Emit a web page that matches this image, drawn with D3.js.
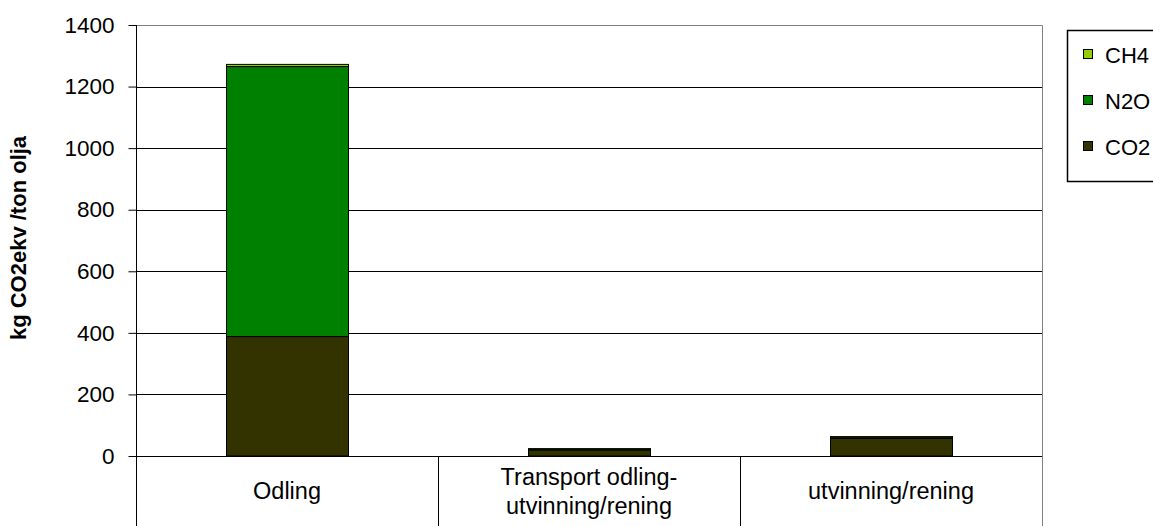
<!DOCTYPE html>
<html>
<head>
<meta charset="utf-8">
<script src="https://cdn.jsdelivr.net/npm/d3@7/dist/d3.min.js"></script>
<style>
  html, body { margin: 0; padding: 0; background: #fff; }
  svg { display: block; font-family: "Liberation Sans", Arial, sans-serif; }
</style>
</head>
<body>
<svg id="chart" width="1153" height="526"></svg>
<script>
// Emissions per process step, kg CO2-equivalents per ton oil
const categories = [["Odling"], ["Transport odling-", "utvinning/rening"], ["utvinning/rening"]];
const co2Values = [388, 19, 57];
const n2oValues = [877, 3, 4];
const ch4Values = [7, 2, 2];
const seriesNames = ["CO2", "N2O", "CH4"];
const seriesColors = ["#333300", "#008000", "#99CC00"];
const yTicks = [0, 200, 400, 600, 800, 1000, 1200, 1400];
const yTitle = "kg CO2ekv /ton olja";

const svg = d3.select("#chart");
const plotLeft = 136, plotRight = 1042, plotTop = 25, zeroY = 456, tableBottom = 526;

const keys = categories.map((c, i) => i);
const table = keys.map(i => ({ key: i, CO2: co2Values[i], N2O: n2oValues[i], CH4: ch4Values[i] }));

const x = d3.scaleBand().domain(keys).range([plotLeft, plotRight]).paddingInner(0.596).paddingOuter(0.298);
const cell = d3.scaleBand().domain(keys).range([plotLeft, plotRight]).padding(0);
const y = d3.scaleLinear().domain([0, 1400]).range([zeroY, plotTop]);

// gridlines
svg.append("g").selectAll("line").data(yTicks.filter(t => t > 0 && t < 1400)).join("line")
  .attr("x1", plotLeft).attr("x2", plotRight)
  .attr("y1", d => Math.round(y(d)) + 0.5).attr("y2", d => Math.round(y(d)) + 0.5)
  .attr("stroke", "#000").attr("stroke-width", 1);

// plot area border (top and right)
svg.append("path")
  .attr("d", `M${plotLeft},${Math.round(y(1400)) + 0.5}H${plotRight + 0.5}V${tableBottom}`)
  .attr("fill", "none").attr("stroke", "#808080").attr("stroke-width", 1);

// stacked bars
const stack = d3.stack().keys(seriesNames);
const layers = stack(table);
svg.append("g").selectAll("g").data(layers).join("g")
  .attr("fill", (d, i) => seriesColors[i])
  .selectAll("rect").data(d => d).join("rect")
  .attr("x", d => Math.round(x(d.data.key)) + 0.5)
  .attr("width", Math.round(x.bandwidth()))
  .attr("y", d => y(d[1]))
  .attr("height", d => y(d[0]) - y(d[1]))
  .attr("stroke", "#000").attr("stroke-width", 1);

// y axis
const yAxis = d3.axisLeft(y).tickValues(yTicks).tickSize(8).tickPadding(14).tickFormat(d3.format("d"));
const gy = svg.append("g").attr("transform", `translate(${plotLeft + 0.5},0)`).call(yAxis);
gy.select(".domain").remove();
gy.selectAll("line").attr("stroke", "#000");
gy.selectAll("text").attr("font-size", 22.5).attr("fill", "#000")
  .attr("font-family", "'Liberation Sans', Arial, sans-serif");
svg.append("line").attr("x1", plotLeft + 0.5).attr("x2", plotLeft + 0.5).attr("y1", plotTop).attr("y2", tableBottom)
  .attr("stroke", "#000");

// zero line and category table
svg.append("line").attr("x1", plotLeft).attr("x2", plotRight).attr("y1", Math.round(zeroY) + 0.5).attr("y2", Math.round(zeroY) + 0.5)
  .attr("stroke", "#000");
svg.append("g").selectAll("line").data(keys.slice(1)).join("line")
  .attr("x1", d => Math.round(cell(d)) + 0.5).attr("x2", d => Math.round(cell(d)) + 0.5)
  .attr("y1", zeroY).attr("y2", tableBottom).attr("stroke", "#000");

const labels = svg.append("g").selectAll("text").data(keys).join("text")
  .attr("x", d => cell(d) + cell.bandwidth() / 2)
  .attr("text-anchor", "middle").attr("font-size", 23.5).attr("fill", "#000");
labels.each(function (d) {
  const lines = categories[d];
  const mid = (zeroY + tableBottom) / 2;
  const lh = 29;
  lines.forEach((t, j) => {
    d3.select(this).append("tspan")
      .attr("x", cell(d) + cell.bandwidth() / 2)
      .attr("y", mid + (j - (lines.length - 1) / 2) * lh)
      .attr("dy", "0.35em").text(t);
  });
});

// axis title
svg.append("text")
  .attr("transform", `translate(26,238) rotate(-90)`)
  .attr("text-anchor", "middle").attr("font-size", 22).attr("font-weight", "bold")
  .text(yTitle);

// legend
const lg = svg.append("g");
lg.append("rect").attr("x", 1067.5).attr("y", 30.5).attr("width", 120).attr("height", 151)
  .attr("fill", "#fff").attr("stroke", "#000").attr("stroke-width", 1.5);
const legendOrder = [2, 1, 0];
const legendY = [55, 101, 147];
legendOrder.forEach((si, j) => {
  lg.append("rect").attr("x", 1083.5).attr("y", legendY[j] - 5.5).attr("width", 9).attr("height", 9)
    .attr("fill", seriesColors[si]).attr("stroke", "#000");
  lg.append("text").attr("x", 1105).attr("y", legendY[j]).attr("dy", "0.35em")
    .attr("font-size", 22).text(seriesNames[si]);
});
</script>
</body>
</html>
